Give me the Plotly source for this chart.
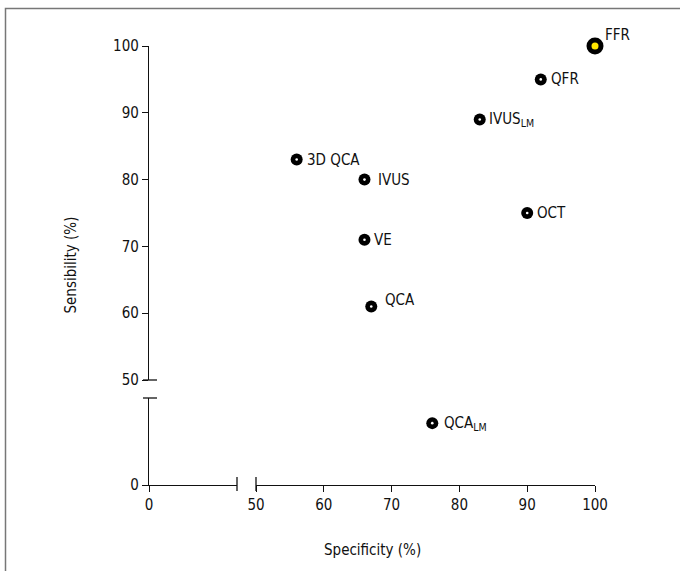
import plotly.graph_objects as go

# ---- data ----
methods = ["FFR", "QFR", "IVUS<sub>LM</sub>", "3D QCA", "IVUS", "OCT", "VE", "QCA", "QCA<sub>LM</sub>"]
specificity = [100, 92, 83, 56, 66, 90, 66, 67, 76]
sensitivity = [100, 95, 89, 83, 80, 75, 71, 61, 32]
highlight = ["FFR"]

x_ticks_upper = [50, 60, 70, 80, 90, 100]
y_ticks_upper = [50, 60, 70, 80, 90, 100]
low_ticks = [0]
break_value = 50  # values below this go on the lower (compressed) segment

# ---- style / layout helpers ----
FONT = "DejaVu Sans Condensed, Liberation Sans Narrow, Roboto, sans-serif"
W, H = 680, 571
L, R, T, B = 149, 595, 46, 485          # plot area in px
pw, ph = R - L, B - T
def px_x(p): return (p - L) / pw
def px_y(p): return (B - p) / ph

label_dx = [8, 8, 7, 8, 12, 8, 8, 12, 10]
label_dy = [11, 0, 0, 0, 0, 0, 0, 7, 0]

fig = go.Figure()

up_x = [x for x, y in zip(specificity, sensitivity) if y >= break_value]
up_y = [y for y in sensitivity if y >= break_value]
lo_x = [x for x, y in zip(specificity, sensitivity) if y < break_value]
lo_y = [y for y in sensitivity if y < break_value]
up_big = [m in highlight for m, y in zip(methods, sensitivity) if y >= break_value]

no_line = dict(width=0)
# upper segment markers
fig.add_trace(go.Scatter(x=up_x, y=up_y, xaxis="x", yaxis="y", mode="markers",
                         marker=dict(size=[17 if b else 12 for b in up_big], color="black",
                                     opacity=1, line=no_line),
                         cliponaxis=False, showlegend=False, hoverinfo="skip"))
fig.add_trace(go.Scatter(x=up_x, y=up_y, xaxis="x", yaxis="y", mode="markers",
                         marker=dict(size=[7 if b else 2.6 for b in up_big], opacity=1, line=no_line,
                                     color=["#ffe600" if b else "white" for b in up_big]),
                         cliponaxis=False, showlegend=False, hoverinfo="skip"))
# lower segment markers
fig.add_trace(go.Scatter(x=lo_x, y=lo_y, xaxis="x", yaxis="y2", mode="markers",
                         marker=dict(size=12, color="black", opacity=1, line=no_line),
                         cliponaxis=False, showlegend=False, hoverinfo="skip"))
fig.add_trace(go.Scatter(x=lo_x, y=lo_y, xaxis="x", yaxis="y2", mode="markers",
                         marker=dict(size=2.6, color="white", opacity=1, line=no_line),
                         cliponaxis=False, showlegend=False, hoverinfo="skip"))
# invisible trace so the lower-left axis segment exists
fig.add_trace(go.Scatter(x=low_ticks, y=low_ticks, xaxis="x2", yaxis="y2", mode="markers",
                         marker=dict(size=1, opacity=0), showlegend=False, hoverinfo="skip"))

annotations = []
for m, x, y, dx, dy in zip(methods, specificity, sensitivity, label_dx, label_dy):
    annotations.append(dict(x=x, y=y, xref="x", yref="y" if y >= break_value else "y2",
                            text=m, showarrow=False, xanchor="left", yanchor="middle",
                            xshift=dx, yshift=dy,
                            font=dict(family=FONT, size=15, color="#111")))

# axis titles (centered on whole broken axes)
annotations.append(dict(x=0.5, y=px_y(550), xref="paper", yref="paper", text="Specificity (%)",
                        showarrow=False, xanchor="center", yanchor="middle",
                        font=dict(family=FONT, size=15, color="#111")))
annotations.append(dict(x=px_x(70), y=0.5, xref="paper", yref="paper", text="Sensibility (%)",
                        showarrow=False, xanchor="center", yanchor="middle", textangle=-90,
                        font=dict(family=FONT, size=15, color="#111")))

ax_common = dict(showline=True, linecolor="#111", linewidth=1.3, ticks="outside",
                 ticklen=6, tickwidth=1.3, tickcolor="#111", showgrid=False, zeroline=False,
                 tickfont=dict(family=FONT, size=15, color="#111"))

x_split = px_x(256)
x_low_end = px_x(237)
y_split = px_y(380)
y_low_end = px_y(398)

fig.update_layout(
    width=W, height=H,
    margin=dict(l=L, r=W - R, t=T, b=H - B),
    plot_bgcolor="white", paper_bgcolor="white",
    xaxis=dict(domain=[x_split, 1], range=[50, 100], tickvals=x_ticks_upper,
               anchor="y2", **ax_common),
    xaxis2=dict(domain=[0, x_low_end], range=[0, 45], tickvals=low_ticks,
                anchor="y2", **ax_common),
    yaxis=dict(domain=[y_split, 1], range=[50, 100], tickvals=y_ticks_upper,
               anchor="x2", **ax_common),
    yaxis2=dict(domain=[0, y_low_end], range=[0, 45], tickvals=low_ticks,
                anchor="x2", **ax_common),
    annotations=annotations,
)

shapes = []
# break marks on y axis
for yy in (380, 398):
    shapes.append(dict(type="line", xref="paper", yref="paper",
                       x0=px_x(143), x1=px_x(157), y0=px_y(yy), y1=px_y(yy),
                       line=dict(color="#111", width=1.3)))
# break marks on x axis
for xx in (237, 256):
    shapes.append(dict(type="line", xref="paper", yref="paper",
                       x0=px_x(xx), x1=px_x(xx), y0=px_y(477), y1=px_y(491),
                       line=dict(color="#111", width=1.3)))
# outer frame
shapes.append(dict(type="rect", xref="paper", yref="paper",
                   x0=px_x(5.5), x1=px_x(720), y0=px_y(620), y1=px_y(8.5),
                   line=dict(color="#777", width=1.5), fillcolor="rgba(0,0,0,0)"))
fig.update_layout(shapes=shapes)

fig.write_html("out.html", config={"displayModeBar": False},
               post_script="document.body.style.margin='0';")
